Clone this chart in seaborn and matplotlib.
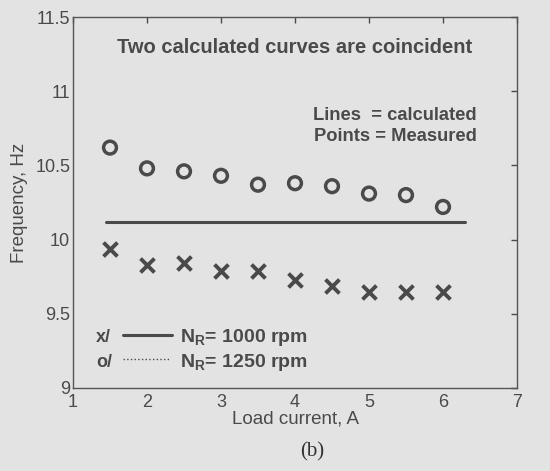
import numpy as np
import pandas as pd
import matplotlib
matplotlib.use('Agg')
import matplotlib.pyplot as plt
import seaborn as sns

# Measured points
load_current = [1.5, 2.0, 2.5, 3.0, 3.5, 4.0, 4.5, 5.0, 5.5, 6.0]
freq_1250 = [10.62, 10.48, 10.46, 10.43, 10.37, 10.38, 10.36, 10.31, 10.30, 10.22]
freq_1000 = [9.94, 9.83, 9.84, 9.79, 9.79, 9.73, 9.69, 9.65, 9.65, 9.65]

# Calculated curves (coincident)
calc_current = [1.45, 6.3]
calc_1000 = [10.12, 10.12]
calc_1250 = [10.12, 10.12]

xticks = [1, 2, 3, 4, 5, 6, 7]
yticks = [9, 9.5, 10, 10.5, 11, 11.5]
ytick_labels = ['9', '9.5', '10', '10.5', '11', '11.5']

bg = '#e3e3e3'
ink = '#4a4a4a'

sns.set_style('white')
plt.rcParams['font.family'] = ['Liberation Sans', 'DejaVu Sans']

fig = plt.figure(figsize=(5.5, 4.71), dpi=100, facecolor=bg)
ax = fig.add_axes([73 / 550, 1 - 388 / 471, (517 - 73) / 550, (388 - 17) / 471])
ax.set_facecolor(bg)

measured = pd.DataFrame({'current': load_current, 'f1000': freq_1000, 'f1250': freq_1250})
calc = pd.DataFrame({'current': calc_current, 'c1000': calc_1000, 'c1250': calc_1250})

sns.lineplot(data=calc, x='current', y='c1000', ax=ax, color=ink, linewidth=2.2)
sns.lineplot(data=calc, x='current', y='c1250', ax=ax, color=ink, linewidth=1.0, linestyle=':')
ax.scatter(measured['current'], measured['f1250'], s=85, marker='o',
           facecolors='none', edgecolors=ink, linewidths=2.5, zorder=3)
ax.scatter(measured['current'], measured['f1000'], s=100, marker='x',
           color=ink, linewidths=2.8, zorder=3)

ax.set_xlim(1, 7)
ax.set_ylim(9, 11.5)
ax.set_xticks(xticks)
ax.set_yticks(yticks)
ax.set_yticklabels(ytick_labels)
ax.tick_params(direction='in', length=4, width=1, colors=ink, labelsize=13,
               top=True, right=True, labelcolor=ink, pad=2)
ax.tick_params(axis='x', pad=4)
for s in ax.spines.values():
    s.set_color('#555555')
    s.set_linewidth(1.0)

ax.set_xlabel('Load current, A', fontsize=13.5, color=ink, labelpad=0)
ax.set_ylabel('Frequency, Hz', fontsize=13.5, color=ink, labelpad=5)

ax.text(0.5, 0.918, 'Two calculated curves are coincident', transform=ax.transAxes,
        ha='center', va='center', fontsize=14.5, fontweight='bold', color=ink)
ax.text(0.91, 0.705, 'Lines  = calculated\nPoints = Measured', transform=ax.transAxes,
        ha='right', va='center', fontsize=13.2, fontweight='bold', color=ink,
        linespacing=1.3)

# legend-style annotation in the lower left
ax.text(0.052, 0.135, 'x/', transform=ax.transAxes, ha='left', va='center',
        fontsize=13, fontweight='bold', color=ink)
ax.text(0.052, 0.07, 'o/', transform=ax.transAxes, ha='left', va='center',
        fontsize=13, fontweight='bold', color=ink)
ax.plot([0.113, 0.223], [0.142, 0.142], transform=ax.transAxes, color=ink, linewidth=2.2)
ax.plot([0.113, 0.218], [0.077, 0.077], transform=ax.transAxes, color=ink, linewidth=1.0,
        linestyle=':')
ax.text(0.241, 0.135, r'N$_\mathregular{R}$= 1000 rpm', transform=ax.transAxes, ha='left',
        va='center', fontsize=14, fontweight='bold', color=ink)
ax.text(0.241, 0.07, r'N$_\mathregular{R}$= 1250 rpm', transform=ax.transAxes, ha='left',
        va='center', fontsize=14, fontweight='bold', color=ink)

fig.text(312 / 550, 1 - 452 / 471, '(b)', ha='center', va='center', fontsize=15,
         family='Liberation Serif', color='#333333')

fig.savefig('out.png', dpi=100, facecolor=bg)
